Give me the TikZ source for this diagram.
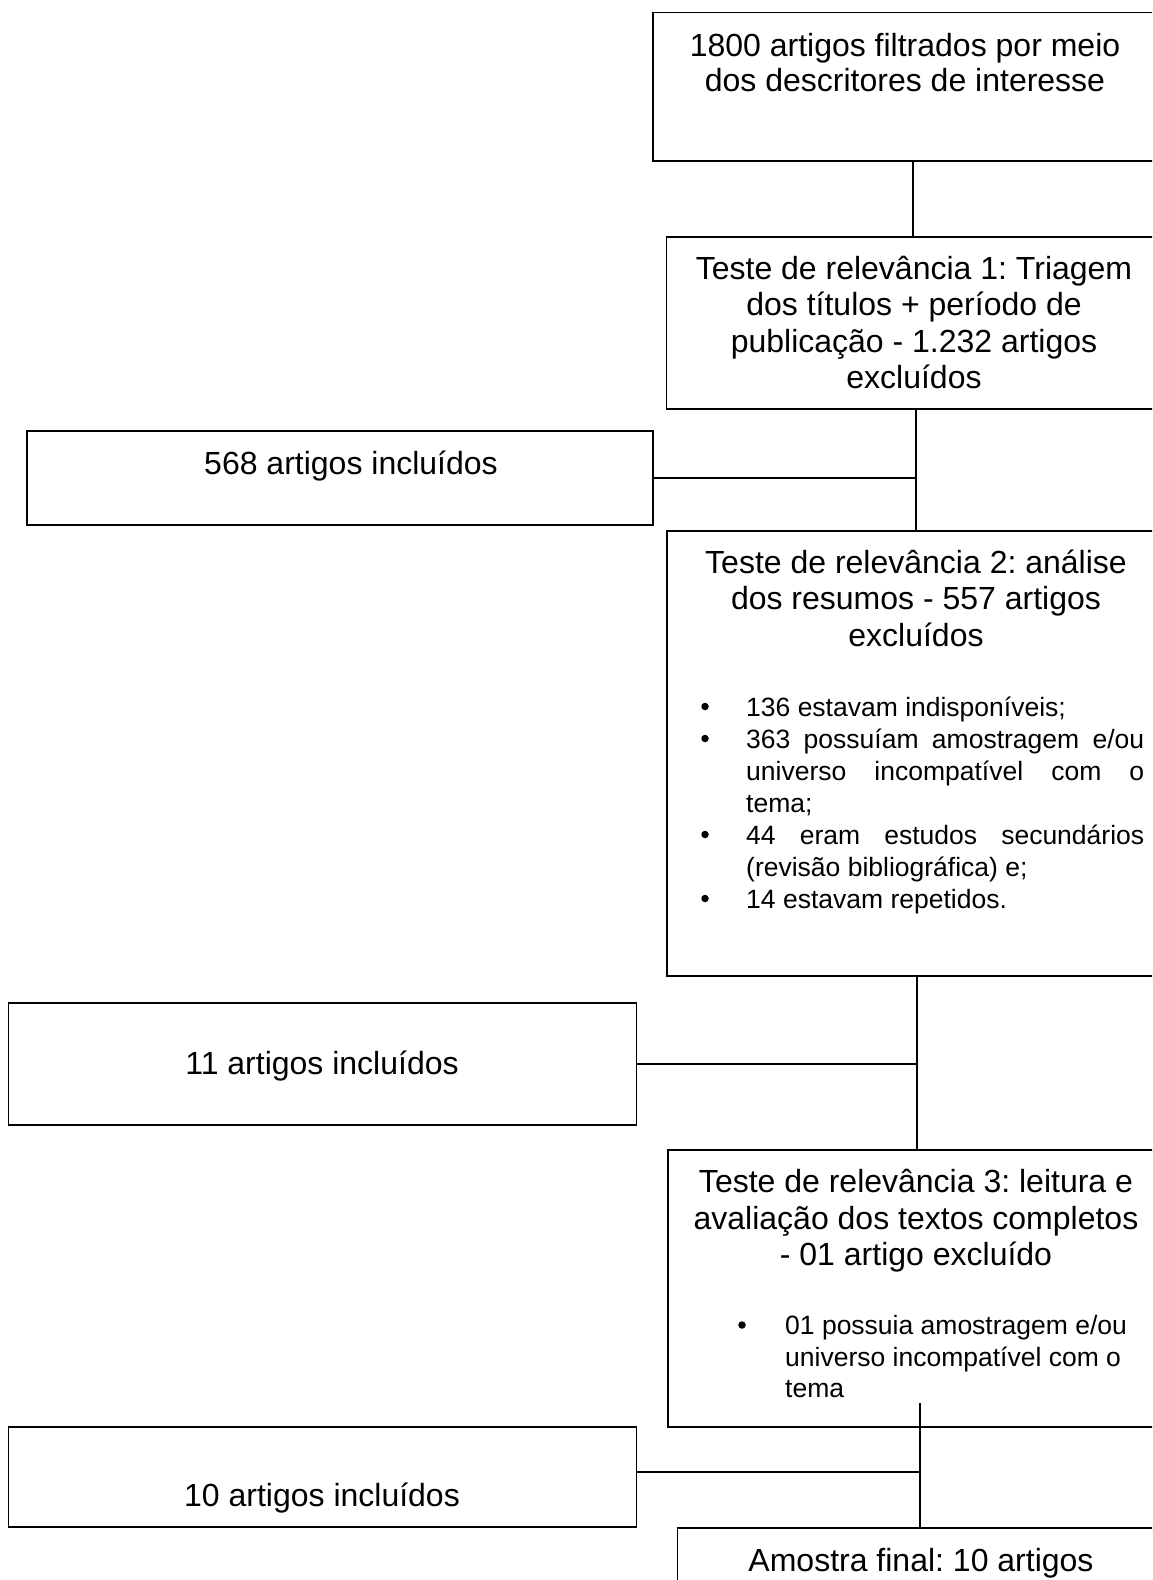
\documentclass[tikz,border=0pt]{standalone}
\usepackage{fontspec}
\setmainfont{Liberation Sans}
\frenchspacing
\begin{document}
\begin{tikzpicture}[x=1pt,y=-1pt,
  box/.style={draw, line width=1.5pt, inner sep=0pt, outer sep=0pt, anchor=north west},
  big/.style={font=\fontsize{32}{36}\selectfont\frenchspacing, anchor=base, inner sep=0pt},
  small/.style={font=\fontsize{26.5}{32}\selectfont\frenchspacing, anchor=base west, inner sep=0pt},
  dot/.style={circle, fill=black, inner sep=0pt, minimum size=7.5pt},
  conn/.style={line width=1.5pt}]
\useasboundingbox (0,0) rectangle (1152,1580);
\clip (0,0) rectangle (1152,1580);
% boxes
\node[box, minimum width=510pt, minimum height=148.3pt] (b1) at (653,12.7) {};
\node[box, minimum width=500pt, minimum height=172pt] (b2) at (666.7,237) {};
\node[box, minimum width=626pt, minimum height=94pt] (b568) at (26.9,431) {};
\node[box, minimum width=500pt, minimum height=445pt] (b3) at (667,531) {};
\node[box, minimum width=628pt, minimum height=122pt] (b11) at (8.7,1003) {};
\node[box, minimum width=500pt, minimum height=277pt] (b4) at (668,1150) {};
\node[box, minimum width=628pt, minimum height=100pt] (b10) at (8.7,1427) {};
\node[box, minimum width=500pt, minimum height=100pt] (bf) at (677.7,1528) {};
% texts
\node[big] (t1a) at (905,56) {1800 artigos filtrados por meio};
\node[big] (t1b) at (905,91) {dos descritores de interesse};
\node[big] (t2a) at (914,279) {Teste de relevância 1: Triagem};
\node[big] (t2b) at (914,315.5) {dos títulos + período de};
\node[big] (t2c) at (914,352) {publicação - 1.232 artigos};
\node[big] (t2d) at (914,388.5) {excluídos};
\node[big] (t568) at (351,474.5) {568 artigos incluídos};
\node[big] (t3a) at (916,573) {Teste de relevância 2: análise};
\node[big] (t3b) at (916,609.5) {dos resumos - 557 artigos};
\node[big] (t3c) at (916,646) {excluídos};
\node[dot] (d1) at (705,706.5) {};
\node[small] (l1) at (746,716) {136 estavam indisponíveis;};
\node[dot] (d2) at (705,738.5) {};
\node[small] (l2) at (746,748) {\makebox[398pt][s]{363 possuíam amostragem e/ou}};
\node[small] (l3) at (746,780) {\makebox[398pt][s]{universo incompatível com o}};
\node[small] (l4) at (746,812) {tema;};
\node[dot] (d3) at (705,834.5) {};
\node[small] (l5) at (746,844) {\makebox[398pt][s]{44 eram estudos secundários}};
\node[small] (l6) at (746,876) {(revisão bibliográfica) e;};
\node[dot] (d4) at (705,898.5) {};
\node[small] (l7) at (746,908) {14 estavam repetidos.};
\node[big] (t11) at (322,1074.5) {11 artigos incluídos};
\node[big] (t4a) at (916,1192.5) {Teste de relevância 3: leitura e};
\node[big] (t4b) at (916,1229.5) {avaliação dos textos completos};
\node[big] (t4c) at (916,1265.5) {- 01 artigo excluído};
\node[dot] (d5) at (742,1325) {};
\node[small] (m1) at (785,1334.5) {01 possuia amostragem e/ou};
\node[small] (m2) at (785,1366.5) {universo incompatível com o};
\node[small] (m3) at (785,1397.5) {tema};
\node[big] (t10) at (322,1506.5) {10 artigos incluídos};
\node[big] (tf) at (921,1571.5) {Amostra final: 10 artigos};
% connectors
\coordinate (c1) at (913,0);
\draw[conn] (b1.south -| c1) -- (b2.north -| c1);
\coordinate (j1) at (916,478);
\draw[conn] (b2.south -| j1) -- (b3.north -| j1);
\draw[conn] (b568.east |- j1) -- (j1);
\coordinate (j2) at (917,1064);
\draw[conn] (b3.south -| j2) -- (b4.north -| j2);
\draw[conn] (b11.east |- j2) -- (j2);
\coordinate (j3) at (920,1472);
\coordinate (s4) at (920,1403);
\draw[conn] (s4) -- (bf.north -| s4);
\draw[conn] (b10.east |- j3) -- (j3);
\end{tikzpicture}
\end{document}
